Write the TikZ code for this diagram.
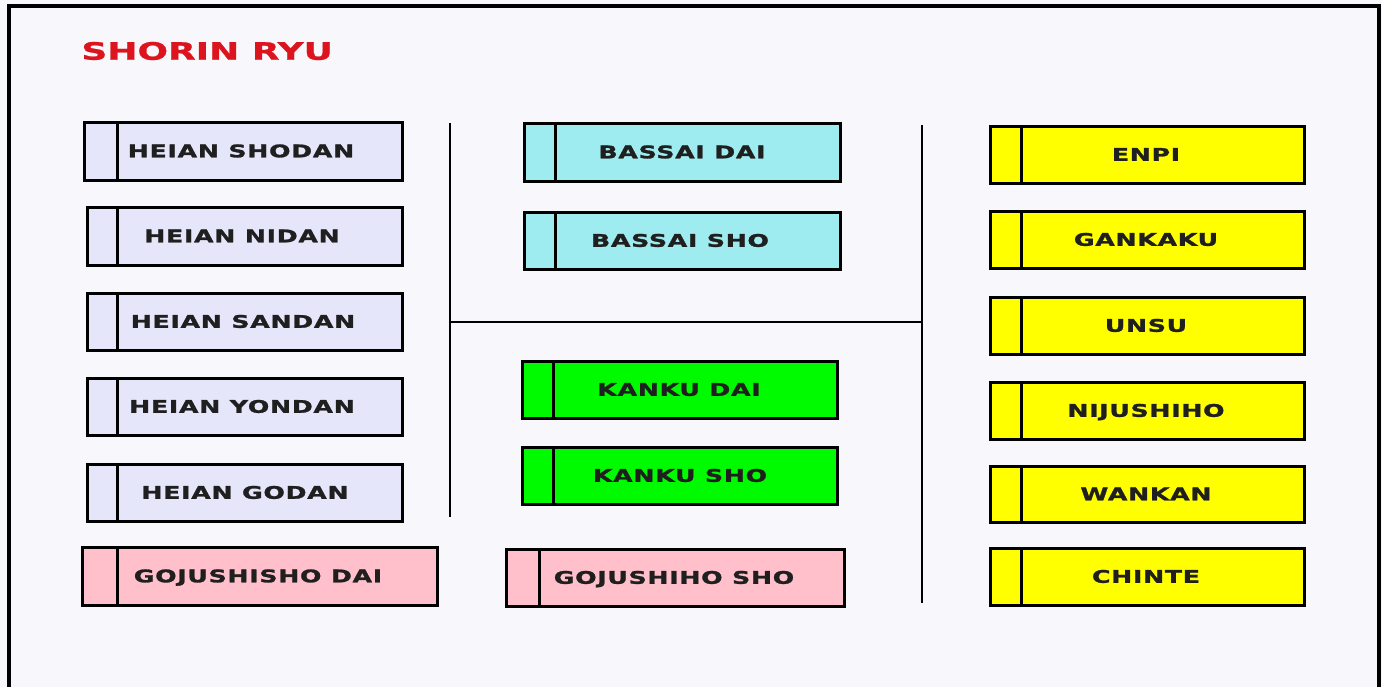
\documentclass[tikz,border=0pt]{standalone}
\usepackage{fontspec}
\usepackage{tikz}
\usetikzlibrary{fit,positioning}

\newfontfamily\katafont[FakeStretch=1.45,LetterSpace=4,FakeBold=1.5]{DejaVu Sans}
\newfontfamily\ryufont[FakeStretch=1.5,FakeBold=1]{DejaVu Sans}

\definecolor{bgpaper}{RGB}{248,248,252}
\definecolor{heianlav}{RGB}{230,230,250}
\definecolor{bassaicyan}{RGB}{158,236,240}
\definecolor{kankugreen}{RGB}{0,250,0}
\definecolor{gojupink}{RGB}{255,192,203}
\definecolor{sentyellow}{RGB}{255,255,0}
\definecolor{titlered}{RGB}{220,20,30}

\tikzset{
  kata/.style={draw, line width=1.5pt, rectangle, inner sep=0pt},
  katadiv/.style={line width=1.5pt},
  kname/.style={font=\katafont\bfseries\fontsize{8.7}{10}\selectfont, text=black!88,
                inner sep=0pt, text height=6.3pt, text depth=0pt},
  sepline/.style={line width=1pt}
}

\begin{document}
\begin{tikzpicture}[x=0.5pt,y=-0.5pt]
            \useasboundingbox (0,0) rectangle (1382,687);
            \fill[bgpaper] (0,0) rectangle (1382,687);
            \draw[line width=2pt] (9,687) -- (9,6) -- (1379,6) -- (1379,687);

            % title
            \node[anchor=west, inner sep=0pt, text=titlered,
                  font=\ryufont\bfseries\fontsize{12}{14}\selectfont] (title) at (81,51) {SHORIN RYU};

            % separators
            \coordinate (lefttop) at (450,123);
            \coordinate (leftbot) at (450,517);
            \coordinate (midleft) at (450,322);
            \coordinate (midright) at (922,322);
            \coordinate (righttop) at (922,125);
            \coordinate (rightbot) at (922,603);
            \draw[sepline] (lefttop) -- (leftbot);
            \draw[sepline] (midleft) -- (midright);
            \draw[sepline] (righttop) -- (rightbot);

            % heian column
            \foreach \n/\xa/\ya/\xb/\yb/\xd/\xt/\t/\c in {
                hshodan/84/122/402/180/117/241/HEIAN SHODAN/heianlav,
                hnidan/87/207/402/265/117/242/HEIAN NIDAN/heianlav,
                hsandan/87/293/402/350/117/243/HEIAN SANDAN/heianlav,
                hyondan/87/378/402/435/117/242/HEIAN YONDAN/heianlav,
                hgodan/87/464/402/521/117/245/HEIAN GODAN/heianlav,
                gojudai/82/547/437/605/117/258/GOJUSHISHO DAI/gojupink}{
                \node[kata, fill=\c, fit={(\xa,\ya) (\xb,\yb)}] (\n) {};
                \draw[katadiv] (\xd,\ya) -- (\xd,\yb);
                \node[kname] (\n-t) at (\xt,{(\ya+\yb)/2}) {\t};
            }

            % middle column
            \foreach \n/\xa/\ya/\xb/\yb/\xd/\xt/\t/\c in {
                bassaidai/524/123/840/181/555/682/BASSAI DAI/bassaicyan,
                bassaisho/524/212/840/269/555/680/BASSAI SHO/bassaicyan,
                kankudai/522/361/837/418/553/679/KANKU DAI/kankugreen,
                kankusho/522/447/837/504/553/680/KANKU SHO/kankugreen,
                gojusho/506/549/844/606/539/674/GOJUSHIHO SHO/gojupink}{
                \node[kata, fill=\c, fit={(\xa,\ya) (\xb,\yb)}] (\n) {};
                \draw[katadiv] (\xd,\ya) -- (\xd,\yb);
                \node[kname] (\n-t) at (\xt,{(\ya+\yb)/2}) {\t};
            }

            % right column
            \foreach \n/\ya/\yb/\t in {
                enpi/126/183/ENPI,
                gankaku/211/268/GANKAKU,
                unsu/297/354/UNSU,
                nijushiho/382/439/NIJUSHIHO,
                wankan/466/522/WANKAN,
                chinte/548/605/CHINTE}{
                \node[kata, fill=sentyellow, fit={(990,\ya) (1304,\yb)}] (\n) {};
                \draw[katadiv] (1021,\ya) -- (1021,\yb);
                \node[kname] (\n-t) at (1146,{(\ya+\yb)/2}) {\t};
            }
\end{tikzpicture}
\end{document}
